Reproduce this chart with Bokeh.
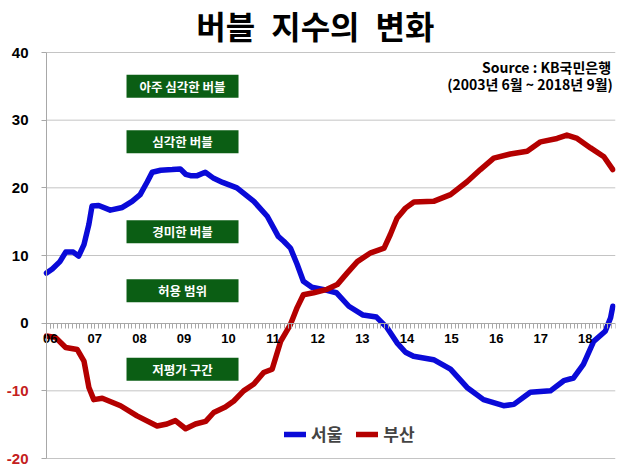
from bokeh.plotting import figure
from bokeh.models import (Range1d, FixedTicker, LinearAxis, Legend, LegendItem,
                          CustomJSTickFormatter)
from bokeh.embed import file_html
from bokeh.resources import INLINE
from bokeh.core.properties import value

title_text = "버블\u2002지수의\u2002변화"
years = list(range(2006, 2019))
y_ticks = [-20, -10, 0, 10, 20, 30, 40]
grid_y = [-20, -10, 10, 20, 30, 40]
y_tick_labels = ["-20", "-10", "0", "10", "20", "30", "40"]
y_tick_colors = ["#c42020", "#c42020", "black", "black", "black", "black", "black"]

seoul_t = [2006.0, 2006.13, 2006.3, 2006.43, 2006.6, 2006.72, 2006.84, 2006.95, 2007.02,
           2007.17, 2007.43, 2007.7, 2007.92, 2008.1, 2008.26, 2008.37, 2008.56, 2008.82,
           2009.0, 2009.12, 2009.23, 2009.38, 2009.56, 2009.75, 2009.95, 2010.27, 2010.65,
           2010.95, 2011.2, 2011.32, 2011.47, 2011.62, 2011.76, 2011.95, 2012.2, 2012.5,
           2012.78, 2013.1, 2013.4, 2013.64, 2013.86, 2014.05, 2014.23, 2014.68, 2015.06,
           2015.43, 2015.8, 2016.25, 2016.48, 2016.85, 2017.3, 2017.6, 2017.82, 2018.04,
           2018.27, 2018.53, 2018.65, 2018.7]
seoul_v = [7.4, 8.0, 9.1, 10.5, 10.5, 9.9, 11.6, 14.6, 17.3,
           17.4, 16.7, 17.1, 18.0, 19.0, 20.9, 22.3, 22.6, 22.7,
           22.8, 22.0, 21.8, 21.8, 22.3, 21.4, 20.8, 20.0, 18.0,
           15.8, 12.8, 12.1, 11.1, 8.7, 6.2, 5.3, 5.0, 4.5,
           2.5, 1.2, 0.9, -0.7, -2.9, -4.3, -4.9, -5.4, -6.8,
           -9.5, -11.3, -12.2, -12.0, -10.2, -10.0, -8.5, -8.1, -6.1,
           -2.7, -1.2, 0.8, 2.5]

busan_t = [2006.0, 2006.2, 2006.43, 2006.69, 2006.84, 2006.95, 2007.06, 2007.25, 2007.66,
           2008.03, 2008.48, 2008.7, 2008.89, 2009.12, 2009.34, 2009.57, 2009.75, 2010.01,
           2010.2, 2010.42, 2010.65, 2010.87, 2011.06, 2011.25, 2011.47, 2011.62, 2011.76,
           2011.99, 2012.29, 2012.52, 2012.74, 2012.97, 2013.27, 2013.57, 2013.71, 2013.86,
           2014.05, 2014.24, 2014.68, 2015.06, 2015.43, 2015.73, 2016.03, 2016.4, 2016.78,
           2017.08, 2017.45, 2017.67, 2017.9, 2018.2, 2018.5, 2018.7]
busan_v = [-1.9, -2.1, -3.6, -3.9, -5.6, -9.5, -11.3, -11.1, -12.2,
           -13.7, -15.2, -14.9, -14.4, -15.6, -14.9, -14.5, -13.2, -12.4,
           -11.5, -10.0, -9.0, -7.3, -6.8, -2.7, -0.2, 2.3, 4.2,
           4.5, 5.0, 5.7, 7.4, 9.1, 10.4, 11.1, 13.1, 15.5,
           17.0, 17.9, 18.0, 19.0, 20.9, 22.7, 24.4, 25.0, 25.4,
           26.8, 27.3, 27.8, 27.3, 25.9, 24.6, 22.7]

zone_labels = ["아주 심각한 버블", "심각한 버블", "경미한 버블", "허용 범위", "저평가 구간"]
zone_y = [35.0, 26.8, 13.5, 4.8, -6.8]
zone_x = [2009.05] * len(zone_labels)

source_lines = ["Source : KB국민은행", "(2003년 6월 ~ 2018년 9월)"]
series_names = ["서울", "부산"]

BLUE = "#0a0ad8"
RED = "#b40000"
GREEN = "#0b5e14"
GRID = "#c4c4c4"
KR = "Noto Sans CJK KR"

X0, X1 = 2006, 2018.76
p = figure(width=622, height=470,
           x_range=Range1d(2004.968, X1), y_range=Range1d(-21.773, 47.685),
           x_axis_type=None, y_axis_type=None,
           output_backend="svg", toolbar_location=None,
           min_border_left=0, min_border_top=0, min_border_right=7, min_border_bottom=0)
p.outline_line_color = None
p.background_fill_color = "white"

# horizontal gridlines limited to the plot area
p.segment(x0=[X0] * len(grid_y), x1=[X1] * len(grid_y), y0=grid_y, y1=grid_y,
          line_color=GRID, line_width=1)

# y axis line + ticks (labels drawn as text for per-label colours)
yax = LinearAxis(fixed_location=X0, bounds=(-20, 40), ticker=FixedTicker(ticks=y_ticks))
yax.major_label_overrides = {t: "" for t in y_ticks}
yax.axis_line_color = "#a8a8a8"
yax.major_tick_line_color = "#a8a8a8"
yax.major_tick_out = 5
yax.major_tick_in = 0
yax.minor_tick_line_color = None
p.add_layout(yax, "left")

p.text(x=[X0] * len(y_ticks), y=y_ticks, text=y_tick_labels, x_offset=-18,
       text_align="right", text_baseline="middle", text_color=y_tick_colors,
       text_font=value("Liberation Sans"), text_font_style="bold", text_font_size="15px")

# x axis on the zero line
major = [y + 1 / 12 for y in years]
minor = [X0 + k / 12 for k in range(0, 154)]
xax = LinearAxis(fixed_location=0, bounds=(X0, X1), ticker=FixedTicker(ticks=major, minor_ticks=minor))
xax.formatter = CustomJSTickFormatter(code="return String(Math.floor(tick + 0.001) % 100).padStart(2, '0');")
xax.axis_line_color = "#a8a8a8"
xax.major_tick_line_color = "#a8a8a8"
xax.minor_tick_line_color = "#a8a8a8"
xax.major_tick_out = 5
xax.major_tick_in = 0
xax.minor_tick_out = 5
xax.minor_tick_in = 0
xax.major_label_standoff = 6
xax.major_label_text_font = "Liberation Sans"
xax.major_label_text_font_style = "bold"
xax.major_label_text_font_size = "13px"
xax.major_label_text_color = "black"
p.add_layout(xax, "below")

# zone boxes
p.rect(x=zone_x, y=zone_y, width=112, height=23, width_units="screen", height_units="screen",
       fill_color=GREEN, line_color=None)
p.text(x=zone_x, y=zone_y, text=zone_labels, text_align="center", text_baseline="middle",
       text_color="white", text_font=value(KR), text_font_style="bold", text_font_size="12.5px")

# lines
r_seoul = p.line(seoul_t, seoul_v, line_color=BLUE, line_width=5.5, line_join="round", line_cap="round")
r_busan = p.line(busan_t, busan_v, line_color=RED, line_width=5.5, line_join="round", line_cap="round")

legend = Legend(items=[LegendItem(label=series_names[0], renderers=[r_seoul]),
                       LegendItem(label=series_names[1], renderers=[r_busan])],
                orientation="horizontal", location=(284, 24), padding=0, margin=0,
                spacing=14, glyph_width=22, glyph_height=20, label_standoff=5,
                label_text_font=KR, label_text_font_style="bold", label_text_font_size="17px",
                border_line_color=None, background_fill_alpha=0)
p.add_layout(legend)

# title and source note
p.text(x=[2012.03], y=[44.1], text=[title_text], text_align="center", text_baseline="middle",
       text_font=value(KR), text_font_style="bold", text_font_size="32px", text_color="black")
p.text(x=[2018.66, 2018.70], y=[37.9, 35.4], text=source_lines, text_align="right",
       text_baseline="middle", text_font=value(KR), text_font_style="bold",
       text_font_size="14px", text_color="black")

open("out.html", "w").write(file_html(p, INLINE))
